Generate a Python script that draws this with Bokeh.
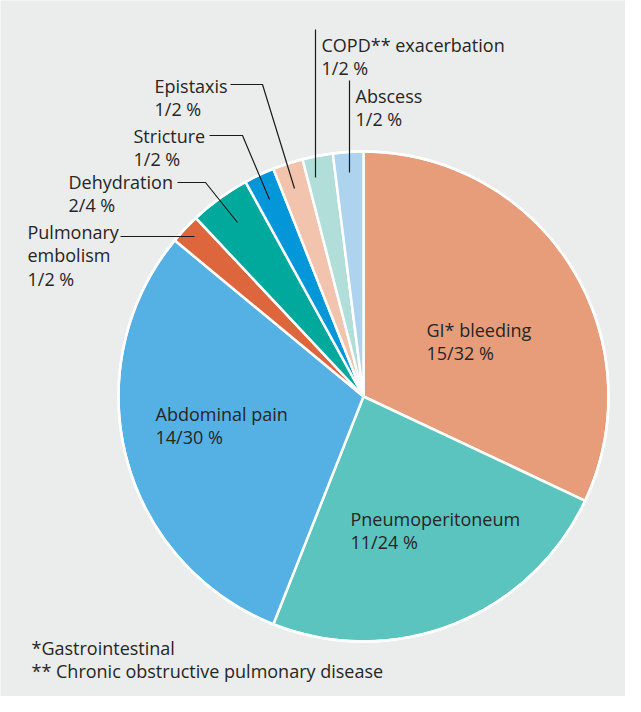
import math
from bokeh.plotting import figure
from bokeh.models import Range1d, ColumnDataSource
from bokeh.core.properties import value
from bokeh.embed import file_html
from bokeh.resources import INLINE

# ---------------- data ----------------
categories = ["GI* bleeding", "Pneumoperitoneum", "Abdominal pain", "Pulmonary embolism",
              "Dehydration", "Stricture", "Epistaxis", "COPD** exacerbation", "Abscess"]
counts = [15, 11, 14, 1, 2, 1, 1, 1, 1]
percents = [32, 24, 30, 2, 4, 2, 2, 2, 2]
footnotes = ["*Gastrointestinal", "** Chronic obstructive pulmonary disease"]

# ---------------- style / layout ----------------
colors = ["#E89D7A", "#5BC4BE", "#55B1E4", "#DD663C", "#00A99B",
          "#0396D8", "#F2C4AE", "#B2DEDA", "#AED3EF"]
W, H = 625, 696
BG = "#EBECEC"
TXT = "#262626"
FONT = "Open Sans"
FS = "18px"
LINE_H = 23.7

def X(px):  # reference pixel -> data
    return px - 8
def Y(py):
    return 704 - py

CX, CY, R = X(371), Y(404), 245

label_pos = {
    "GI* bleeding": (434, 337),
    "Pneumoperitoneum": (358, 526),
    "Abdominal pain": (163, 421),
    "Pulmonary embolism": (35, 239),
    "Dehydration": (76, 189),
    "Stricture": (141, 143),
    "Epistaxis": (162, 93),
    "COPD** exacerbation": (329, 52),
    "Abscess": (363, 103),
}
wrap = {"Pulmonary embolism": ["Pulmonary", "embolism"]}
leaders = {
    "Pulmonary embolism": [(128, 244), (202, 244)],
    "Dehydration": [(185, 190), (213, 190), (245, 230)],
    "Stricture": [(217, 143), (250, 143), (277, 207)],
    "Epistaxis": [(238, 92), (270, 92), (302, 196)],
    "COPD** exacerbation": [(323, 37), (323, 185)],
    "Abscess": [(357, 88), (357, 180)],
}
foot_pos = (39, 655)

# ---------------- figure ----------------
p = figure(width=W, height=H, output_backend="svg", toolbar_location=None,
           x_range=Range1d(0, W), y_range=Range1d(0, H), min_border=0)
p.axis.visible = False
p.grid.visible = False
p.outline_line_color = None
p.background_fill_color = BG
p.border_fill_color = BG

total = sum(percents)
starts, ends = [], []
cum = 0
for v in percents:
    starts.append(math.pi / 2 - 2 * math.pi * cum / total)
    cum += v
    ends.append(math.pi / 2 - 2 * math.pi * cum / total)

src = ColumnDataSource(dict(x=[CX] * len(categories), y=[CY] * len(categories),
                            start=starts, end=ends, color=colors))
p.wedge(x="x", y="y", radius=R, start_angle="start", end_angle="end",
        direction="clock", fill_color="color", line_color="white", line_width=2.5,
        source=src)
p.circle(x=[CX], y=[CY], radius=R, fill_color=None, line_color="white", line_width=2.5)

# labels
tx, ty, tt = [], [], []
for name, n, pc in zip(categories, counts, percents):
    lines = wrap.get(name, [name]) + [f"{n}/{pc} %"]
    lx, ly = label_pos[name]
    for i, ln in enumerate(lines):
        tx.append(X(lx)); ty.append(Y(ly + i * LINE_H)); tt.append(ln)
for i, fn in enumerate(footnotes):
    tx.append(X(foot_pos[0])); ty.append(Y(foot_pos[1] + i * LINE_H)); tt.append(fn)

p.text(x=tx, y=ty, text=tt, text_font=value(FONT), text_font_size=FS,
       text_color=TXT, text_align="left", text_baseline="alphabetic")

# leader lines
xs, ys = [], []
for name, pts in leaders.items():
    xs.append([X(a) for a, b in pts]); ys.append([Y(b) for a, b in pts])
p.multi_line(xs=xs, ys=ys, line_color="#1a1a1a", line_width=1.2)

open("out.html", "w").write(file_html(p, INLINE))
